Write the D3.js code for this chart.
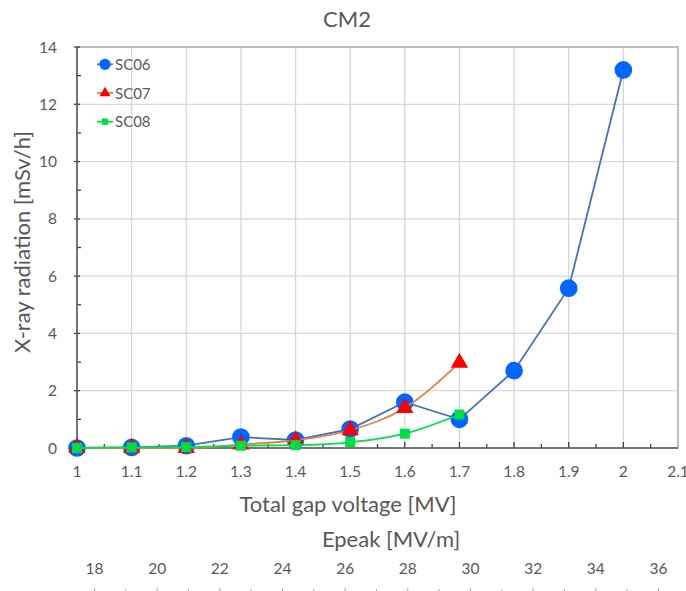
<!DOCTYPE html>
<html>
<head>
<meta charset="utf-8">
<script src="https://cdn.jsdelivr.net/npm/d3@7"></script>
<style>
  body { margin: 0; background: #fff; }
  text { font-family: Lato, "Open Sans", sans-serif; fill: #595959; }
</style>
</head>
<body>
<div id="chart"></div>
<script>
// gap voltage steps [MV]
var voltage = [1.0, 1.1, 1.2, 1.3, 1.4, 1.5, 1.6, 1.7, 1.8, 1.9, 2.0];
// X-ray dose rate [mSv/h]
var sc06 = [0.0, 0.02, 0.08, 0.38, 0.28, 0.66, 1.6, 1.0, 2.7, 5.58, 13.2];
var sc07 = [0.0, 0.0, 0.0, 0.12, 0.27, 0.62, 1.4, 2.98];
var sc08 = [0.0, 0.02, 0.03, 0.08, 0.1, 0.2, 0.5, 1.17];
var xTicks = [1, 1.1, 1.2, 1.3, 1.4, 1.5, 1.6, 1.7, 1.8, 1.9, 2, 2.1];
var yTicks = [0, 2, 4, 6, 8, 10, 12, 14];
var epeakTicks = [18, 20, 22, 24, 26, 28, 30, 32, 34, 36];
var epeakPerMV = 17.44; // Epeak / Vgap

var width = 686, height = 591;
var margin = {top: 47, right: 8, bottom: 143, left: 77};
var w = width - margin.left - margin.right,
    h = height - margin.top - margin.bottom;

var svg = d3.select("#chart").append("svg")
  .attr("width", width)
  .attr("height", height);

var g = svg.append("g")
  .attr("transform", "translate(" + margin.left + "," + margin.top + ")");

var x = d3.scaleLinear().domain([1, 2.1]).range([0, w]);
var y = d3.scaleLinear().domain([0, 14]).range([h, 0]);
var xE = d3.scaleLinear().domain([epeakPerMV * 1, epeakPerMV * 2.1]).range([0, w]);

// gridlines
g.append("g").selectAll("line").data(xTicks.slice(1))
  .enter().append("line")
  .attr("x1", d => x(d)).attr("x2", d => x(d))
  .attr("y1", 0).attr("y2", h)
  .attr("stroke", "#d9d4d6").attr("stroke-width", 1.3);
g.append("g").selectAll("line").data(yTicks.slice(1))
  .enter().append("line")
  .attr("x1", 0).attr("x2", w)
  .attr("y1", d => y(d)).attr("y2", d => y(d))
  .attr("stroke", "#d9d9d9").attr("stroke-width", 1.3);

// frame
g.append("rect").attr("width", w).attr("height", h)
  .attr("fill", "none").attr("stroke", "#9a9a9a").attr("stroke-width", 1);

// minor ticks
var xMinor = d3.range(1.05, 2.1, 0.1);
g.append("g").selectAll("line").data(xMinor)
  .enter().append("line")
  .attr("x1", d => x(d)).attr("x2", d => x(d))
  .attr("y1", h).attr("y2", h - 4)
  .attr("stroke", "#404040").attr("stroke-width", 1.3);
g.append("g").selectAll("line").data(xTicks.slice(1, -1))
  .enter().append("line")
  .attr("x1", d => x(d)).attr("x2", d => x(d))
  .attr("y1", h).attr("y2", h - 6)
  .attr("stroke", "#404040").attr("stroke-width", 1.3);
var yMinor = d3.range(1, 14, 2);
g.append("g").selectAll("line").data(yMinor)
  .enter().append("line")
  .attr("x1", 0).attr("x2", 4)
  .attr("y1", d => y(d)).attr("y2", d => y(d))
  .attr("stroke", "#404040").attr("stroke-width", 1.3);
g.append("g").selectAll("line").data(yTicks.slice(1))
  .enter().append("line")
  .attr("x1", -3).attr("x2", 3)
  .attr("y1", d => y(d)).attr("y2", d => y(d))
  .attr("stroke", "#404040").attr("stroke-width", 1.3);

// axis lines
g.append("line").attr("x1", 0).attr("x2", w).attr("y1", h).attr("y2", h)
  .attr("stroke", "#595959").attr("stroke-width", 1.5);
g.append("line").attr("x1", 0).attr("x2", 0).attr("y1", 0).attr("y2", h)
  .attr("stroke", "#595959").attr("stroke-width", 1.5);

// tick labels
g.append("g").selectAll("text").data(xTicks)
  .enter().append("text")
  .attr("x", d => x(d)).attr("y", h + 29)
  .attr("text-anchor", "middle").attr("font-size", 15.5)
  .text(d => d);
g.append("g").selectAll("text").data(yTicks)
  .enter().append("text")
  .attr("x", -20).attr("y", d => y(d) + 5.5)
  .attr("text-anchor", "end").attr("font-size", 15.5)
  .text(d => d);

// secondary Epeak axis
var eAxisY = h + 144;
g.append("g").selectAll("text").data(epeakTicks)
  .enter().append("text")
  .attr("x", d => xE(d)).attr("y", h + 126)
  .attr("text-anchor", "middle").attr("font-size", 15.5)
  .text(d => d);
g.append("g").selectAll("line").data(d3.range(18, 37, 1))
  .enter().append("line")
  .attr("x1", d => xE(d)).attr("x2", d => xE(d))
  .attr("y1", eAxisY).attr("y2", d => eAxisY - (d % 2 == 0 ? 4 : 3))
  .attr("stroke", "#a6a6a6").attr("stroke-width", 1);

// axis titles
svg.append("text")
  .attr("x", 348).attr("y", 512)
  .attr("text-anchor", "middle").attr("font-size", 22)
  .text("Total gap voltage [MV]");
svg.append("text")
  .attr("x", 391).attr("y", 547)
  .attr("text-anchor", "middle").attr("font-size", 22)
  .text("Epeak [MV/m]");
svg.append("text")
  .attr("transform", "translate(30,242) rotate(-90)")
  .attr("text-anchor", "middle").attr("font-size", 22)
  .text("X-ray radiation [mSv/h]");
svg.append("text")
  .attr("x", 347).attr("y", 27)
  .attr("text-anchor", "middle").attr("font-size", 22)
  .text("CM2");

// series
var series = [
  {name: "SC06", values: sc06, line: "#4472c4", fill: "#0066ff", shape: d3.symbolCircle, size: 245, curve: d3.curveLinear},
  {name: "SC07", values: sc07, line: "#ed7d31", fill: "#ff0000", shape: d3.symbolTriangle, size: 130, curve: d3.curveMonotoneX},
  {name: "SC08", values: sc08, line: "#00e04a", fill: "#00dd44", shape: d3.symbolSquare, size: 100, curve: d3.curveMonotoneX}
];

series.forEach(function(s) {
  var pts = s.values.map((v, i) => [voltage[i], v]);
  var line = d3.line().x(d => x(d[0])).y(d => y(d[1])).curve(s.curve);
  g.append("path").datum(pts)
    .attr("d", line)
    .attr("fill", "none")
    .attr("stroke", s.line).attr("stroke-width", 1.8);
  g.append("g").selectAll("path").data(pts)
    .enter().append("path")
    .attr("transform", d => "translate(" + x(d[0]) + "," + y(d[1]) + ")")
    .attr("d", d3.symbol().type(s.shape).size(s.size))
    .attr("fill", s.fill);
});

// legend
var legend = g.append("g").attr("transform", "translate(20,17.3)");
series.forEach(function(s, i) {
  var row = legend.append("g").attr("transform", "translate(0," + (i * 28.7) + ")");
  row.append("line").attr("x1", 0).attr("x2", 16).attr("y1", 0).attr("y2", 0)
    .attr("stroke", s.line).attr("stroke-width", 1.8);
  row.append("path").attr("transform", "translate(8,0)")
    .attr("d", d3.symbol().type(s.shape).size(s.size * 0.4))
    .attr("fill", s.fill);
  row.append("text").attr("x", 18).attr("y", 5.5)
    .attr("font-size", 15).text(s.name);
});
</script>
</body>
</html>
